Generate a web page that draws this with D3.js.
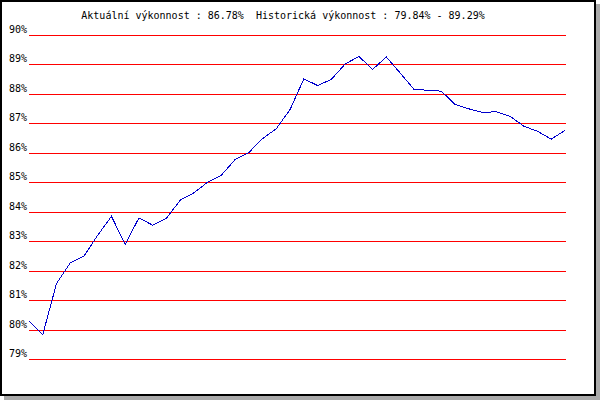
<!DOCTYPE html>
<html>
<head>
<meta charset="utf-8">
<script src="https://cdn.jsdelivr.net/npm/d3@7"></script>
<style>
	html, body { margin: 0; padding: 0; background: #fff; }
	svg { display: block; }
	text { font-family: "DejaVu Sans Mono", monospace; font-size: 10px; fill: #000; }
</style>
</head>
<body>
<div id="chart"></div>
<script>
var performance = [
	80.30, 79.84, 81.58, 82.28, 82.51, 83.22, 83.86, 82.91, 83.81, 83.56,
	83.79, 84.41, 84.66, 85.02, 85.26, 85.79, 86.03, 86.50, 86.84, 87.49,
	88.53, 88.30, 88.51, 89.03, 89.29, 88.85, 89.27, 88.73, 88.18, 88.14,
	88.11, 87.66, 87.51, 87.39, 87.41, 87.26, 86.92, 86.75, 86.48, 86.78
];
var tickValues = [79, 80, 81, 82, 83, 84, 85, 86, 87, 88, 89, 90];
var currentValue = 86.78;
var historicRange = [79.84, 89.29];

function PerformanceChart(target) {
	'use strict';

	var width = 600,
		height = 400,
		left = 29,
		right = 566,
		top = 35.5,
		bottom = 359.5;

	var svg = d3.select(target)
		.append('svg')
		.attr('width', width)
		.attr('height', height);

	// shadow + frame
	svg.append('rect')
		.attr('x', 4).attr('y', 4)
		.attr('width', width - 4).attr('height', height - 4)
		.attr('fill', '#aaaaaa');

	svg.append('rect')
		.attr('x', 1).attr('y', 1)
		.attr('width', 594).attr('height', 394)
		.attr('fill', '#fff')
		.attr('stroke', '#000')
		.attr('stroke-width', 2);

	var x = d3.scaleLinear()
		.domain([0, performance.length - 1])
		.range([left, right - 1]);

	var y = d3.scaleLinear()
		.domain([d3.min(tickValues), d3.max(tickValues)])
		.range([bottom, top]);

	var grid = svg.append('g').attr('class', 'grid');

	grid.selectAll('line')
		.data(tickValues)
		.enter()
		.append('line')
		.attr('x1', left)
		.attr('x2', right)
		.attr('y1', function(d) { return y(d); })
		.attr('y2', function(d) { return y(d); })
		.attr('stroke', '#ff0000')
		.attr('stroke-width', 1)
		.attr('shape-rendering', 'crispEdges');

	grid.selectAll('text')
		.data(tickValues)
		.enter()
		.append('text')
		.attr('x', 27)
		.attr('y', function(d) { return y(d) - 2.5; })
		.attr('text-anchor', 'end')
		.text(function(d) { return d + '%'; });

	var line = d3.line()
		.x(function(d, i) { return x(i); })
		.y(function(d) { return y(d); });

	svg.append('path')
		.datum(performance)
		.attr('d', line)
		.attr('fill', 'none')
		.attr('stroke', '#0000cc')
		.attr('stroke-width', 1)
		.attr('shape-rendering', 'crispEdges');

	svg.append('text')
		.attr('x', 283)
		.attr('y', 19)
		.attr('text-anchor', 'middle')
		.attr('xml:space', 'preserve')
		.style('white-space', 'pre')
		.text('Aktuální výkonnost : ' + currentValue.toFixed(2) + '%  Historická výkonnost : ' +
			historicRange[0].toFixed(2) + '% - ' + historicRange[1].toFixed(2) + '%');
}

PerformanceChart(document.getElementById('chart'));
</script>
</body>
</html>
